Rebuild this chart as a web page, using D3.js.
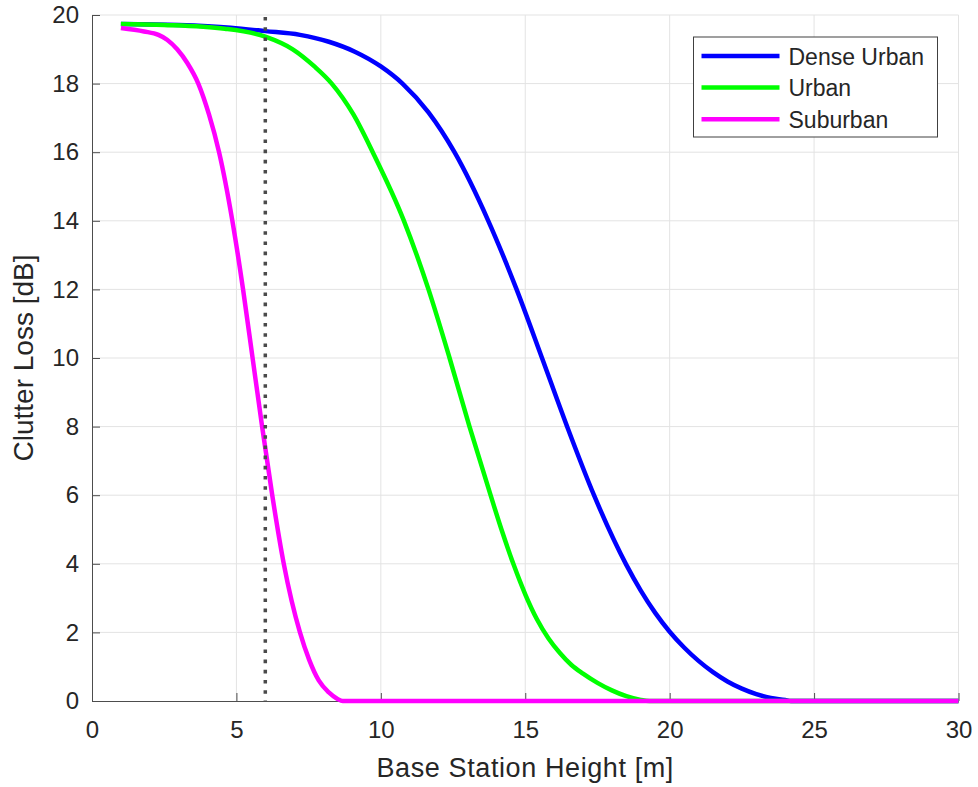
<!DOCTYPE html>
<html lang="en">
<head>
    <meta charset="UTF-8">
    <title>Clutter Loss vs Base Station Height</title>
    <script src="https://d3js.org/d3.v7.min.js"></script>
    <style>
        body {
            margin: 0;
            background-color: #fff;
        }

        svg {
            display: block;
            font-family: "Liberation Sans", Arial, sans-serif;
        }

        .grid line {
            stroke: #e3e3e3;
            stroke-width: 1;
        }

        .axis path,
        .axis line {
            stroke: #4d4d4d;
        }

        .axis text {
            fill: #262626;
            font-size: 24px;
        }
    </style>
</head>
<body>
    <svg id="chart" width="978" height="787"></svg>

    <script>
        // values
        const seriesNames = ["Dense Urban", "Urban", "Suburban"];

        const denseHeight = [1, 3, 4.8, 6, 7.2, 8.2, 9.1, 10, 10.75, 11.65, 12.55, 13.72, 14.7, 15.58, 16.45, 17.38, 18.5, 19, 19.5, 20, 20.5, 21, 21.5, 22, 22.5, 23, 23.5, 24, 24.2, 30];
        const denseLoss = [19.74, 19.71, 19.63, 19.53, 19.42, 19.22, 18.93, 18.5, 18, 17.16, 16, 14, 12, 10, 8, 6, 3.97, 3.22, 2.57, 2.02, 1.56, 1.17, 0.84, 0.57, 0.36, 0.2, 0.09, 0.03, 0, 0];

        const urbanHeight = [1, 2.5, 4.6, 6, 6.95, 7.7, 8.3, 9.05, 9.72, 10.8, 11.65, 12.38, 13.07, 13.8, 14.2, 14.6, 15, 15.4, 15.8, 16.2, 16.6, 17, 17.5, 18, 18.5, 19, 19.3, 30];
        const urbanLoss = [19.74, 19.71, 19.6, 19.37, 19.0, 18.5, 18, 17.1, 16, 14, 12, 10, 8, 6, 4.94, 3.97, 3.11, 2.39, 1.83, 1.4, 1.05, 0.8, 0.53, 0.31, 0.14, 0.03, 0, 0];

        const suburbanHeight = [1, 1.8, 2.3, 2.6, 2.95, 3.3, 3.68, 4.05, 4.4, 4.86, 5.23, 5.56, 5.89, 6.24, 6.64, 7.2, 7.52, 7.85, 8.2, 8.5, 8.68, 30];
        const suburbanLoss = [19.62, 19.52, 19.42, 19.28, 19.0, 18.6, 18, 17.1, 16, 14, 12, 10, 8, 6, 4, 2, 1.2, 0.6, 0.25, 0.06, 0, 0];

        const markerHeight = 6;

        const xTicks = [0, 5, 10, 15, 20, 25, 30];
        const yTicks = [0, 2, 4, 6, 8, 10, 12, 14, 16, 18, 20];

        const colors = ["#0000ff", "#00ff00", "#ff00ff"];

        const svg = d3.select("#chart");
        const plotLeft = 92, plotRight = 958.5, plotTop = 15, plotBottom = 701;

        const x = d3.scaleLinear().domain([0, 30]).range([plotLeft, plotRight]);
        const y = d3.scaleLinear().domain([0, 20]).range([plotBottom, plotTop]);

        // grid
        const grid = svg.append("g").attr("class", "grid");
        grid.selectAll("line.gx")
            .data(xTicks.slice(1))
            .join("line")
            .attr("class", "gx")
            .attr("x1", d => x(d)).attr("x2", d => x(d))
            .attr("y1", plotTop).attr("y2", plotBottom);
        grid.selectAll("line.gy")
            .data(yTicks.slice(1))
            .join("line")
            .attr("class", "gy")
            .attr("x1", plotLeft).attr("x2", plotRight)
            .attr("y1", d => y(d)).attr("y2", d => y(d));

        // axes (drawn below the data, like the original)
        svg.append("g")
            .attr("class", "axis")
            .attr("transform", `translate(0,${plotBottom})`)
            .call(d3.axisBottom(x).tickValues(xTicks).tickFormat(d3.format("d"))
                .tickSizeInner(-8).tickSizeOuter(0).tickPadding(20));

        svg.append("g")
            .attr("class", "axis")
            .attr("transform", `translate(${plotLeft},0)`)
            .call(d3.axisLeft(y).tickValues(yTicks).tickFormat(d3.format("d"))
                .tickSizeInner(-8).tickSizeOuter(0).tickPadding(13));

        // curves
        const series = [
            { name: seriesNames[0], xs: denseHeight, ys: denseLoss },
            { name: seriesNames[1], xs: urbanHeight, ys: urbanLoss },
            { name: seriesNames[2], xs: suburbanHeight, ys: suburbanLoss }
        ];

        const line = d3.line()
            .x(d => x(d[0]))
            .y(d => y(d[1]))
            .curve(d3.curveMonotoneX);

        svg.selectAll("path.curve")
            .data(series)
            .join("path")
            .attr("class", "curve")
            .attr("d", s => line(s.xs.map((v, i) => [v, s.ys[i]])))
            .attr("fill", "none")
            .attr("stroke", (s, i) => colors[i])
            .attr("stroke-width", 4.5)
            .attr("stroke-linejoin", "round");

        // dotted marker at 6 m
        svg.append("line")
            .attr("x1", x(markerHeight)).attr("x2", x(markerHeight))
            .attr("y1", y(20) + 2).attr("y2", y(0))
            .attr("stroke", "#4a4a4a")
            .attr("stroke-width", 3.5)
            .attr("stroke-dasharray", "3.6 6.6");

        // labels
        svg.append("text")
            .attr("x", (plotLeft + plotRight) / 2)
            .attr("y", 777)
            .attr("text-anchor", "middle")
            .attr("fill", "#262626")
            .style("font-size", "27px")
            .style("letter-spacing", "0.6px")
            .text("Base Station Height [m]");

        svg.append("text")
            .attr("transform", "translate(33,358) rotate(-90)")
            .attr("text-anchor", "middle")
            .attr("fill", "#262626")
            .style("font-size", "28px")
            .text("Clutter Loss [dB]");

        // legend
        const legend = svg.append("g").attr("transform", "translate(693.5,37)");
        legend.append("rect")
            .attr("width", 244)
            .attr("height", 100)
            .attr("fill", "#fff")
            .attr("stroke", "#404040")
            .attr("stroke-width", 1);

        const items = legend.selectAll("g.item")
            .data(series)
            .join("g")
            .attr("class", "item")
            .attr("transform", (d, i) => `translate(0,${19 + i * 31.6})`);

        items.append("line")
            .attr("x1", 8).attr("x2", 86)
            .attr("stroke", (d, i) => colors[i])
            .attr("stroke-width", 4.5);

        items.append("text")
            .attr("x", 95)
            .attr("y", 8.5)
            .attr("fill", "#262626")
            .style("font-size", "23px")
            .text(d => d.name);
    </script>
</body>
</html>
